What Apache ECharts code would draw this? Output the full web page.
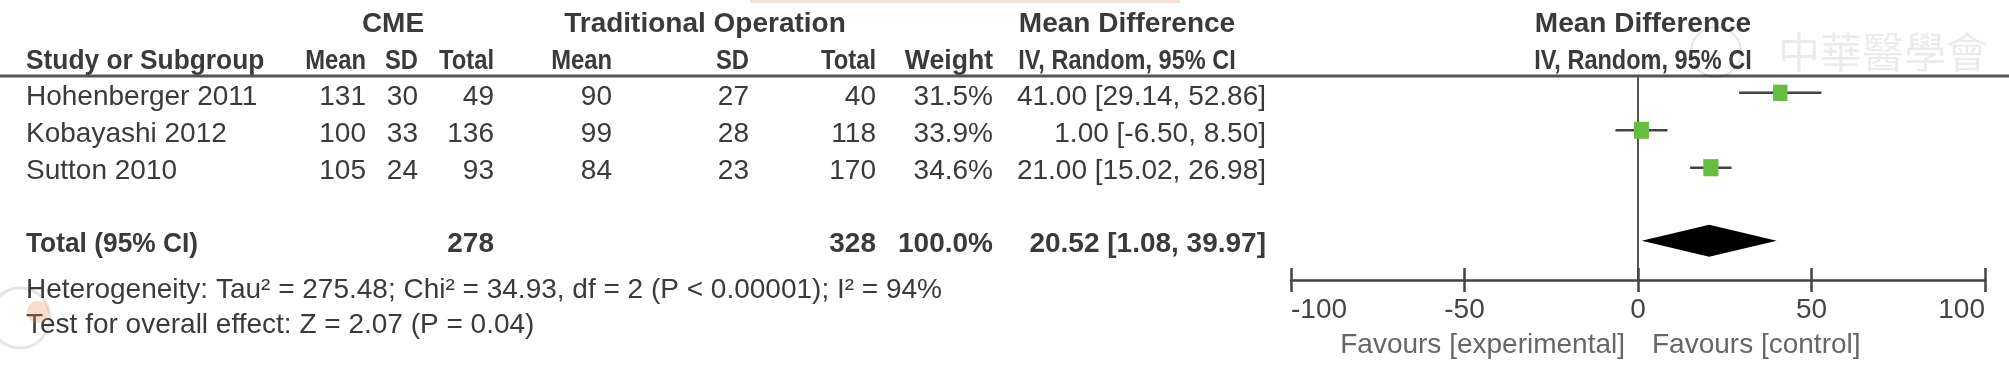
<!DOCTYPE html>
<html>
<head>
<meta charset="utf-8">
<script src="https://cdn.jsdelivr.net/npm/echarts@6/dist/echarts.min.js"></script>
<style>
  html, body { margin: 0; padding: 0; background: #fff; }
  #chart { width: 2009px; height: 372px; }
</style>
</head>
<body>
<div id="chart"></div>
<script>
// study data
const studies = ["Hohenberger 2011", "Kobayashi 2012", "Sutton 2010"];
const cmeMean = [131, 100, 105];
const cmeSD = [30, 33, 24];
const cmeTotal = [49, 136, 93];
const tradMean = [90, 99, 84];
const tradSD = [27, 28, 23];
const tradTotal = [40, 118, 170];
const weights = [31.5, 33.9, 34.6];
const md = [41.0, 1.0, 21.0];
const ciLow = [29.14, -6.5, 15.02];
const ciHigh = [52.86, 8.5, 26.98];

// pooled result
const pooled = [20.52, 1.08, 39.97];
const totalCME = 278;
const totalTrad = 328;
const totalWeight = 100.0;

const xTicks = [-100, -50, 0, 50, 100];
const footnotes = [
  "Heterogeneity: Tau\u00b2 = 275.48; Chi\u00b2 = 34.93, df = 2 (P < 0.00001); I\u00b2 = 94%",
  "Test for overall effect: Z = 2.07 (P = 0.04)"
];

const FONT = "'Liberation Sans', Arial, sans-serif";
const TEXT = "#3a3a3a";
const TOTAL_ROW = 3.95; // row position of the pooled diamond

// table layout (pixels)
const colRight = [366, 418, 494, 612, 749, 876, 993, 1266];
const rowY = [97, 134, 171];
const totalY = 244;

const myChart = echarts.init(document.getElementById("chart"));

function txt(text, x, y, align, bold, color, sx) {
  return {
    type: "text",
    x: x,
    y: y,
    scaleX: sx || 1,
    silent: true,
    style: {
      text: text,
      fill: color || TEXT,
      font: (bold ? "bold " : "") + "28px " + FONT,
      textAlign: align || "left",
      textVerticalAlign: "middle",
      align: align || "left",
      verticalAlign: "middle"
    }
  };
}

const fmtCI = (m, lo, hi) => m.toFixed(2) + " [" + lo.toFixed(2) + ", " + hi.toFixed(2) + "]";

const graphics = [];
// header rows
graphics.push(txt("CME", 393, 24, "center", true));
graphics.push(txt("Traditional Operation", 705, 24, "center", true));
graphics.push(txt("Mean Difference", 1127, 24, "center", true));
graphics.push(txt("Mean Difference", 1643, 24, "center", true));
graphics.push(txt("Study or Subgroup", 26, 61, "left", true, null, 0.94));
const subHeads = ["Mean", "SD", "Total", "Mean", "SD", "Total", "Weight"];
const subScale = [0.85, 0.85, 0.85, 0.85, 0.85, 0.85, 0.95];
subHeads.forEach((h, i) => graphics.push(txt(h, colRight[i], 61, "right", true, null, subScale[i])));
graphics.push(txt("IV, Random, 95% CI", 1127, 61, "center", true, null, 0.84));
graphics.push(txt("IV, Random, 95% CI", 1643, 61, "center", true, null, 0.84));
graphics.push({
  type: "line", silent: true,
  shape: { x1: 0, y1: 76, x2: 2009, y2: 76 },
  style: { stroke: "#555", lineWidth: 3 }
});

// study rows
studies.forEach((s, i) => {
  const y = rowY[i];
  const cells = [cmeMean[i], cmeSD[i], cmeTotal[i], tradMean[i], tradSD[i], tradTotal[i],
    weights[i].toFixed(1) + "%", fmtCI(md[i], ciLow[i], ciHigh[i])];
  graphics.push(txt(s, 26, y, "left"));
  cells.forEach((c, j) => graphics.push(txt(String(c), colRight[j], y, "right")));
});

// total row
graphics.push(txt("Total (95% CI)", 26, totalY, "left", true, null, 0.94));
graphics.push(txt(String(totalCME), colRight[2], totalY, "right", true));
graphics.push(txt(String(totalTrad), colRight[5], totalY, "right", true));
graphics.push(txt(totalWeight.toFixed(1) + "%", colRight[6], totalY, "right", true));
graphics.push(txt(fmtCI(pooled[0], pooled[1], pooled[2]), colRight[7], totalY, "right", true));

graphics.push(txt(footnotes[0], 26, 290, "left"));
graphics.push(txt(footnotes[1], 26, 325, "left"));

// favours labels
graphics.push(txt("Favours [experimental]", 1625, 345, "right", false, "#666"));
graphics.push(txt("Favours [control]", 1652, 345, "left", false, "#666"));

// faint watermarks
graphics.push({
  type: "text", x: 1778, y: 52, silent: true,
  style: {
    text: "中華醫學會", fill: "rgba(0,0,0,0.08)",
    font: "42px 'Noto Sans CJK TC'", textVerticalAlign: "middle", verticalAlign: "middle"
  }
});
graphics.push({
  type: "circle", silent: true, shape: { cx: 1716, cy: 52, r: 25 },
  style: { fill: "none", stroke: "rgba(0,0,0,0.1)", lineWidth: 2 }
});
graphics.push({
  type: "circle", silent: true, shape: { cx: 20, cy: 318, r: 30 },
  style: { fill: "none", stroke: "rgba(0,0,0,0.1)", lineWidth: 3 }
});
graphics.push({
  type: "circle", silent: true, shape: { cx: 38, cy: 312, r: 11 },
  style: { fill: "rgba(240,140,80,0.3)" }
});
graphics.push({
  type: "rect", silent: true, shape: { x: 750, y: 0, width: 430, height: 3 },
  style: { fill: "#f6e1d4" }
});

const option = {
  backgroundColor: "#fff",
  animation: false,
  grid: { left: 1291, right: 24, top: 76, bottom: 92 },
  xAxis: [
    {
      type: "value",
      min: -100,
      max: 100,
      interval: 50,
      axisLine: { onZero: false, lineStyle: { color: "#444", width: 2.5 } },
      axisTick: { inside: true, length: 12, lineStyle: { color: "#444", width: 2.5 } },
      axisLabel: {
        color: "#444", fontSize: 28, fontFamily: FONT, margin: 16,
        alignMinLabel: "left", alignMaxLabel: "right"
      },
      splitLine: { show: false }
    },
    {
      type: "value",
      position: "bottom",
      min: -100,
      max: 100,
      interval: 50,
      axisLine: { show: false, onZero: false },
      axisTick: { inside: false, length: 12, lineStyle: { color: "#444", width: 2.5 } },
      axisLabel: { show: false },
      splitLine: { show: false }
    }
  ],
  yAxis: {
    type: "value",
    inverse: true,
    min: -0.45,
    max: 5,
    axisLine: { show: true, onZero: true, lineStyle: { color: "#555", width: 2 } },
    axisTick: { show: false },
    axisLabel: { show: false },
    splitLine: { show: false }
  },
  series: [
    {
      type: "custom",
      silent: true,
      data: studies.map((s, i) => [md[i], i, ciLow[i], ciHigh[i], weights[i]]),
      renderItem: function (params, api) {
        const row = api.value(1);
        const mid = api.coord([api.value(0), row]);
        const lo = api.coord([api.value(2), row]);
        const hi = api.coord([api.value(3), row]);
        const k = Math.sqrt(api.value(4) / 34);
        const w = 15 * k, h = 17 * k;
        return {
          type: "group",
          children: [
            { type: "line", shape: { x1: lo[0], y1: lo[1], x2: hi[0], y2: hi[1] },
              style: { stroke: "#444", lineWidth: 2.5 } },
            { type: "rect", shape: { x: mid[0] - w / 2, y: mid[1] - h / 2, width: w, height: h },
              style: { fill: "#66bf3c" } }
          ]
        };
      }
    },
    {
      type: "custom",
      silent: true,
      data: [[pooled[0], TOTAL_ROW, pooled[1], pooled[2]]],
      renderItem: function (params, api) {
        const row = api.value(1);
        const mid = api.coord([api.value(0), row]);
        const lo = api.coord([api.value(2), row]);
        const hi = api.coord([api.value(3), row]);
        const hh = 16;
        return {
          type: "polygon",
          shape: { points: [[lo[0], lo[1]], [mid[0], mid[1] - hh], [hi[0], hi[1]], [mid[0], mid[1] + hh]] },
          style: { fill: "#000" }
        };
      }
    }
  ],
  graphic: { elements: graphics }
};

myChart.setOption(option);
</script>
</body>
</html>
